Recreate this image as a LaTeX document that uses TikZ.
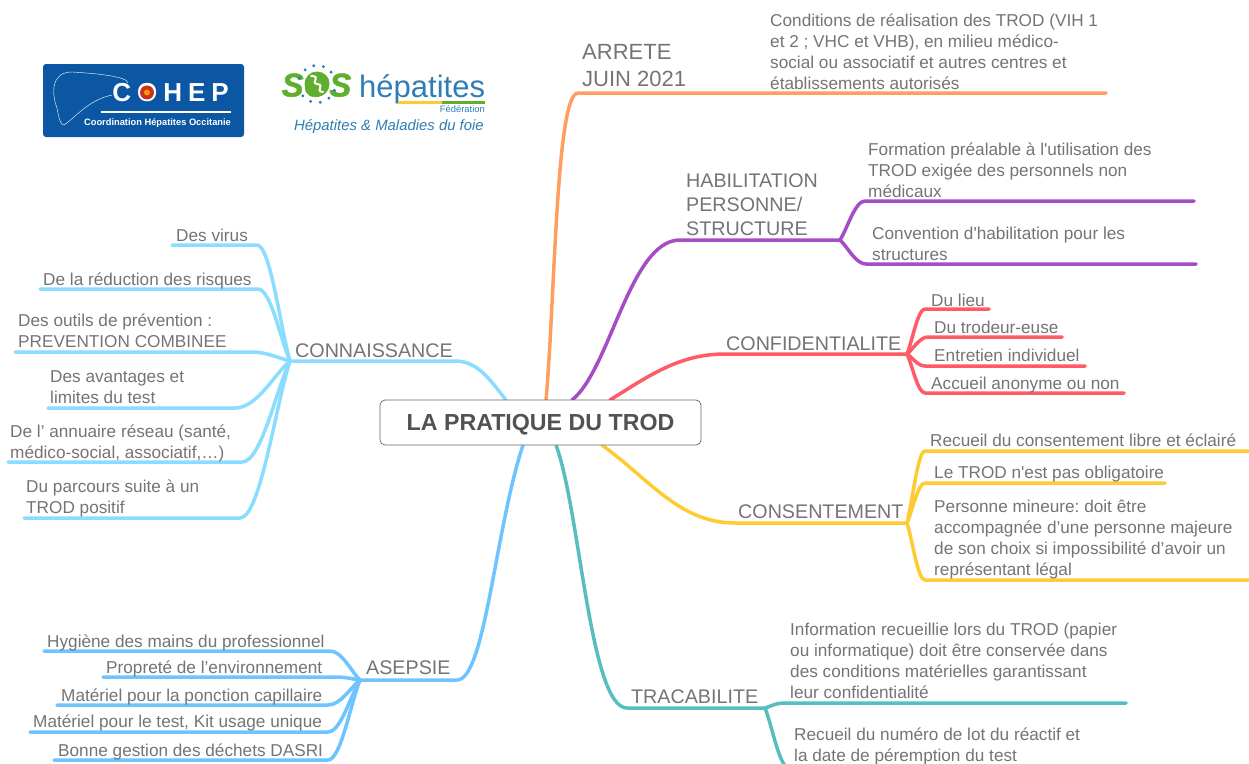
\documentclass[tikz,border=0pt]{standalone}
\usepackage{fontspec}
\setmainfont{Liberation Sans}[Ligatures=TeXOff]
\definecolor{txt}{HTML}{747474}
\definecolor{corange}{HTML}{FF9E5E}
\definecolor{cpurple}{HTML}{A64DC6}
\definecolor{cred}{HTML}{FF5A68}
\definecolor{cyellow}{HTML}{FFCB33}
\definecolor{cteal}{HTML}{56BEC0}
\definecolor{cblue}{HTML}{6DC4FF}
\definecolor{clight}{HTML}{8ADDFF}
\definecolor{logoblue}{HTML}{0B57A4}
\definecolor{sosgreen}{HTML}{5FAE2E}
\definecolor{sosblue}{HTML}{2F7DB5}
\definecolor{logored}{HTML}{C8321E}
\newcommand{\lab}[5][]{\node[anchor=south west,inner sep=0pt,align=left,text=txt,font=\fontsize{17.2}{21}\selectfont,#1] (#2) at (#3,#4+7.1) {#5\strut};}
\newcommand{\hd}[5][]{\node[anchor=south west,inner sep=0pt,align=left,text=txt,font=\fontsize{19.7}{24}\selectfont,#1] (#2) at (#3,#4+8) {#5\strut};}
% \sub{colour}{hub x}{hub y}{near x}{far x}{y}
\newcommand{\sub}[6]{%
 \pgfmathsetmacro{\cax}{#2+0.3*(#4-#2)}%
 \pgfmathsetmacro{\cay}{#3+0.3*(#6-#3)}%
 \pgfmathsetmacro{\cbx}{#4+0.4*(#2-#4)}%
 \draw[br,#1] (#2,#3) .. controls (\cax,\cay) and (\cbx,#6) .. (#4,#6) -- (#5,#6);}
\tikzset{
 br/.style={line width=3.5pt,line cap=round,line join=round},
}
\frenchspacing
\begin{document}
\begin{tikzpicture}[x=1pt,y=-1pt]
\useasboundingbox (0,0) rectangle (1249,763);
% connectors
\coordinate (oS) at (546,400); \coordinate (oE) at (578,93); \coordinate (oT) at (1106,93);
\draw[br,corange] (oS) .. controls (555,300) and (556,93) .. (oE) -- (oT);
\coordinate (pS) at (572,400); \coordinate (pM) at (680,240); \coordinate (pH) at (840,240);
\draw[br,cpurple] (pS) .. controls (610,370) and (630,240) .. (pM) -- (pH);
\sub{cpurple}{840}{240}{865}{1194}{201}
\sub{cpurple}{840}{240}{866}{1196}{264}
\coordinate (rS) at (610,400); \coordinate (rM) at (725,354); \coordinate (rH) at (907,354);
\draw[br,cred] (rS) .. controls (650,375) and (680,354) .. (rM) -- (rH);
\foreach \a/\b/\y in {925/989/309,928/1062/337,925/1085/366,925/1124/393}{
 \sub{cred}{907}{354}{\a}{\b}{\y}
}
\coordinate (yS) at (602,445); \coordinate (yM) at (735,523); \coordinate (yH) at (907,523);
\draw[br,cyellow] (yS) .. controls (650,480) and (680,523) .. (yM) -- (yH);
\foreach \a/\b/\y in {925/1251/451,925/1165/483,925/1251/580}{
 \sub{cyellow}{907}{523}{\a}{\b}{\y}
}
\coordinate (tS) at (556,445); \coordinate (tM) at (627,708); \coordinate (tH) at (765,708);
\draw[br,cteal] (tS) .. controls (580,510) and (590,708) .. (tM) -- (tH);
\sub{cteal}{765}{708}{783}{1126}{703}
\sub{cteal}{765}{708}{789}{1060}{768}
\coordinate (bS) at (523,445); \coordinate (bM) at (457,680); \coordinate (bH) at (360,680);
\draw[br,cblue] (bS) .. controls (495,530) and (485,680) .. (bM) -- (bH);
\foreach \a/\b/\y in {330/44/651,336/103/677,328/57/705,328/30/732,328/54/760}{
 \sub{cblue}{360}{680}{\a}{\b}{\y}
}
\coordinate (lS) at (506,400); \coordinate (lM) at (455,361); \coordinate (lH) at (290,361);
\draw[br,clight] (lS) .. controls (490,380) and (478,361) .. (lM) -- (lH);
\foreach \a/\b/\y in {257/172/245,258/40/289,252/15/352,235/48/408,242/8/462,240/24/518}{
 \sub{clight}{290}{361}{\a}{\b}{\y}
}
% central
\node[draw=black!60,line width=.7pt,fill=white,rounded corners=5pt,minimum width=321pt,minimum height=45pt,inner sep=0pt,text depth=0pt,font=\fontsize{23.2}{26}\bfseries\selectfont,text=black!68] (center) at (540.5,422.5) {LA PRATIQUE DU TROD};
% labels
\hd[font=\fontsize{22}{27}\selectfont]{arrete}{582}{87}{ARRETE\\JUIN 2021}
\lab{arretetxt}{770}{89}{Conditions de réalisation des TROD (VIH 1\\et 2 ; VHC et VHB), en milieu médico-\\social ou associatif et autres centres et\\établissements autorisés}
\hd{habil}{686}{235}{HABILITATION\\PERSONNE/\\STRUCTURE}
\lab{form}{868}{197}{Formation préalable à l'utilisation des\\TROD exigée des personnels non\\médicaux}
\lab{conv}{872}{260}{Convention d'habilitation pour les\\structures}
\hd{conf}{726}{350}{CONFIDENTIALITE}
\lab{lieu}{931}{305.5}{Du lieu}
\lab{trod}{934}{333}{Du trodeur-euse}
\lab{entre}{934}{361}{Entretien individuel}
\lab{accueil}{931}{389}{Accueil anonyme ou non}
\hd{cons}{738}{518}{CONSENTEMENT}
\lab{recueil}{930}{446}{Recueil du consentement libre et éclairé}
\lab{pas}{934}{478}{Le TROD n'est pas obligatoire}
\lab{mineur}{934}{575}{Personne mineure: doit être\\accompagnée d’une personne majeure\\de son choix si impossibilité d’avoir un\\représentant légal}
\hd{trac}{631}{703}{TRACABILITE}
\lab{info}{790}{698}{Information recueillie lors du TROD (papier\\ou informatique) doit être conservée dans\\des conditions matérielles garantissant\\leur confidentialité}
\lab{lot}{794}{761}{Recueil du numéro de lot du réactif et\\la date de péremption du test}
\hd{asep}{366}{674}{ASEPSIE}
\lab{a1}{47}{647}{Hygiène des mains du professionnel}
\lab{a2}{106}{673}{Propreté de l’environnement}
\lab{a3}{61}{701}{Matériel pour la ponction capillaire}
\lab{a4}{33}{727}{Matériel pour le test, Kit usage unique}
\lab{a5}{58}{756}{Bonne gestion des déchets DASRI}
\hd{conn}{295}{357}{CONNAISSANCE}
\lab{v1}{176}{241}{Des virus}
\lab{v2}{43}{285}{De la réduction des risques}
\lab{v3}{18}{347}{Des outils de prévention :\\PREVENTION COMBINEE}
\lab{v4}{50}{403}{Des avantages et\\limites du test}
\lab{v5}{10}{458}{De l’ annuaire réseau (santé,\\médico-social, associatif,…)}
\lab{v6}{26}{513}{Du parcours suite à un\\TROD positif}
% COHEP logo
\fill[logoblue,rounded corners=3pt] (43,64) rectangle (244,137);
\draw[white,line width=.4pt] (128,83) .. controls (128,76) and (90,73) .. (72,72) .. controls (50,72) and (52,95) .. (57,108) .. controls (59,120) and (61,125) .. (64,125) .. controls (75,118) and (88,100) .. (112,95);
\node[text=white,font=\fontsize{26}{26}\bfseries\selectfont,inner sep=0pt] (cohep) at (170.5,92.5) {C\hspace{6pt}O\hspace{6pt}H\hspace{6pt}E\hspace{6pt}P};
\fill[logored] (147,92.5) circle (7pt);
\fill[orange!80!yellow] (147,92.5) circle (3pt);
\fill[white] (101,111) rectangle (231,113);
\node[text=white,font=\fontsize{9.3}{11}\bfseries\selectfont,inner sep=0pt] (cohepsub) at (157.5,123.5) {Coordination Hépatites Occitanie};
% SOS logo
\node[text=sosgreen,font=\fontsize{33}{33}\bfseries\itshape\addfontfeature{FakeBold=1.5}\selectfont,inner sep=0pt,anchor=base] (sos) at (316.5,96.5) {SOS};
\fill[sosgreen] (317,84) circle (12.5pt);
\foreach \ang in {20,50,...,160,200,230,...,340}{
 \fill[sosblue] (317,84)+(\ang:18.5) circle (1.6pt);
}
\draw[white,line width=2pt,line cap=round] (311,76) .. controls (322,76) and (310,83) .. (317,84) .. controls (326,85) and (314,91) .. (323,92);
\node[text=sosblue,font=\fontsize{31}{31}\selectfont,inner sep=0pt,anchor=base west] (hep) at (359,97) {hépatites};
\fill[cyellow] (398,101) rectangle (442,103.5);
\fill[sosgreen] (442,101) rectangle (485,103.5);
\node[text=sosblue,font=\fontsize{9.4}{11}\selectfont,inner sep=0pt,anchor=east] (fed) at (485,109) {Fédération};
\node[text=sosblue,font=\fontsize{14.9}{17}\itshape\selectfont,inner sep=0pt,anchor=east] (mal) at (484,127) {Hépatites \& Maladies du foie};
\end{tikzpicture}
\end{document}
